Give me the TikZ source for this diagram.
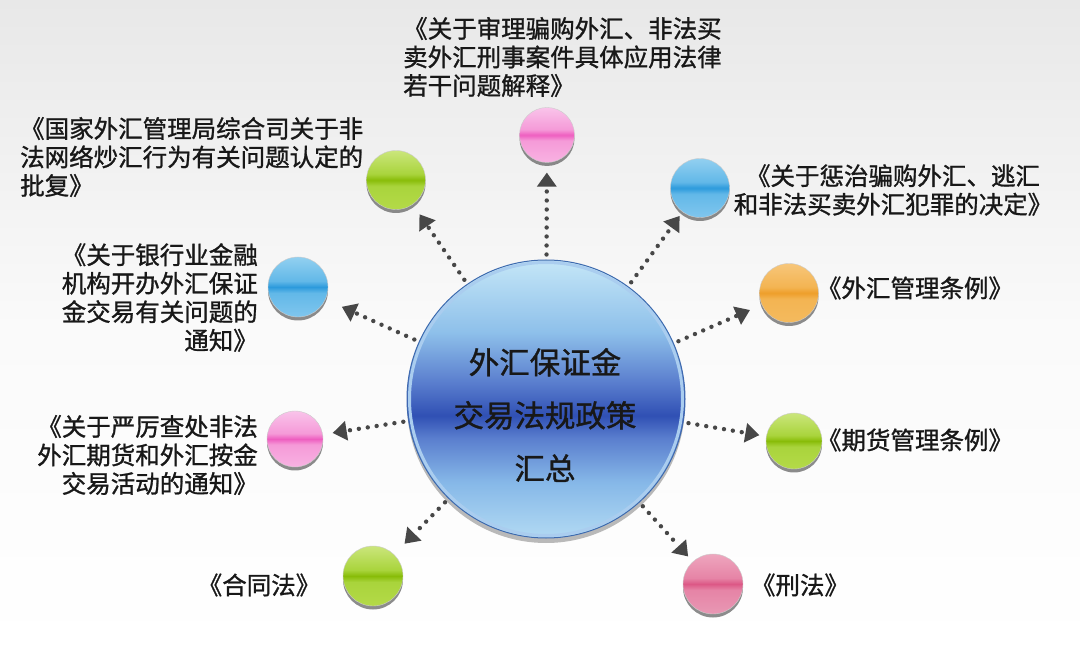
\documentclass[tikz,border=0pt]{standalone}
\usepackage{fontspec}
\newfontfamily\cjk[FakeBold=1.1]{Noto Sans CJK SC}
\usetikzlibrary{arrows.meta,shadows}
% colours
\definecolor{tc}{HTML}{181818}
\definecolor{ac}{HTML}{474747}
\definecolor{gT}{HTML}{CBE67C}\definecolor{gL}{HTML}{A9D43C}\definecolor{gM}{HTML}{88BC08}\definecolor{gB}{HTML}{B4DA48}
\definecolor{pT}{HTML}{F9C4EA}\definecolor{pL}{HTML}{F59AD8}\definecolor{pM}{HTML}{EE5EC0}\definecolor{pB}{HTML}{F8B2E2}
\definecolor{bT}{HTML}{92D0F0}\definecolor{bL}{HTML}{62B8E8}\definecolor{bM}{HTML}{2C9ADC}\definecolor{bB}{HTML}{80C6EE}
\definecolor{oT}{HTML}{F7C67A}\definecolor{oL}{HTML}{F3B452}\definecolor{oM}{HTML}{EE9E2A}\definecolor{oB}{HTML}{F4BA5E}
\definecolor{rT}{HTML}{EEA6BE}\definecolor{rL}{HTML}{E684A6}\definecolor{rM}{HTML}{DC5886}\definecolor{rB}{HTML}{E898B4}
\definecolor{cT}{HTML}{C4E6F7}\definecolor{c1}{HTML}{8EC0EA}\definecolor{cM}{HTML}{3050B4}\definecolor{c2}{HTML}{5A7ECE}\definecolor{c3}{HTML}{86B8E8}\definecolor{cB}{HTML}{B2DAF3}
\definecolor{cedge}{HTML}{3E6AAE}
% shadings (path box maps to 25bp..75bp)
\pgfdeclareverticalshading{ballg}{100bp}{color(0bp)=(gB); color(25bp)=(gB); color(45bp)=(gL); color(50bp)=(gM); color(55bp)=(gL); color(75bp)=(gT); color(100bp)=(gT)}
\pgfdeclareverticalshading{ballp}{100bp}{color(0bp)=(pB); color(25bp)=(pB); color(45bp)=(pL); color(50bp)=(pM); color(55bp)=(pL); color(75bp)=(pT); color(100bp)=(pT)}
\pgfdeclareverticalshading{ballb}{100bp}{color(0bp)=(bB); color(25bp)=(bB); color(45bp)=(bL); color(50bp)=(bM); color(55bp)=(bL); color(75bp)=(bT); color(100bp)=(bT)}
\pgfdeclareverticalshading{ballo}{100bp}{color(0bp)=(oB); color(25bp)=(oB); color(45bp)=(oL); color(50bp)=(oM); color(55bp)=(oL); color(75bp)=(oT); color(100bp)=(oT)}
\pgfdeclareverticalshading{ballr}{100bp}{color(0bp)=(rB); color(25bp)=(rB); color(45bp)=(rL); color(50bp)=(rM); color(55bp)=(rL); color(75bp)=(rT); color(100bp)=(rT)}
\pgfdeclareverticalshading{bigc}{100bp}{color(0bp)=(cB); color(25bp)=(cB); color(35bp)=(c3); color(43bp)=(c2); color(47bp)=(cM); color(53bp)=(c2); color(62bp)=(c1); color(75bp)=(cT); color(100bp)=(cT)}
\begin{document}
\begin{tikzpicture}[x=1pt,y=-1pt,
  ball/.style={circle, inner sep=0pt, minimum size=#1, draw=white!60!gray, line width=0.4pt,
     drop shadow={shadow xshift=0pt, shadow yshift=-3.5pt, fill=black!60, opacity=0.75}},
  lab/.style={font=\cjk\fontsize{24.5}{28.5}\selectfont, text=tc, inner sep=0pt},
  dotarrow/.style={draw=ac, line width=4.4pt, line cap=round, dash pattern=on 0pt off 9pt,
     -{Triangle[length=14pt,width=20pt,line width=0pt]}, shorten <=5pt}]
\useasboundingbox (0,0) rectangle (1080,652);
\shade[top color=black!9, bottom color=white, middle color=black!2] (0,0) rectangle (1080,652);

% central circle
\node[circle, inner sep=0pt, minimum size=278pt, shading=bigc, draw=cedge, line width=1pt,
  drop shadow={shadow xshift=0pt, shadow yshift=-5pt, fill=black!45, opacity=0.6}] (C) at (546,399) {};
\draw[c3!70!white, line width=3pt] (546,399) circle (136.5);
\node[font=\cjk\fontsize{30.5}{53}\selectfont, text=tc, align=center, inner sep=0pt] (CT) at (545,415)
  {外汇保证金\\交易法规政策\\汇总};

% balls
\node[ball=55pt, shading=ballp] (b1) at (547,135) {};
\node[ball=59pt, shading=ballb] (b2) at (700,188) {};
\node[ball=59pt, shading=ballo] (b3) at (789,293) {};
\node[ball=56pt, shading=ballg] (b4) at (794,441) {};
\node[ball=60pt, shading=ballr] (b5) at (713,584) {};
\node[ball=60pt, shading=ballg] (b6) at (373,576) {};
\node[ball=56pt, shading=ballp] (b7) at (295,439) {};
\node[ball=60pt, shading=ballb] (b8) at (298,287) {};
\node[ball=59pt, shading=ballg] (b9) at (396,180) {};

% arrows
\draw[dotarrow, shorten >=10pt] (C) -- (b1);
\draw[dotarrow, shorten >=5pt] (C) -- (b2);
\draw[dotarrow, shorten >=13pt] (C) -- (b3);
\draw[dotarrow, shorten >=7pt] (C) -- (b4);
\draw[dotarrow, shorten >=7pt] (C) -- (b5);
\draw[dotarrow, shorten >=15pt] (C) -- (b6);
\draw[dotarrow, shorten >=10pt] (C) -- (b7);
\draw[dotarrow, shorten >=18pt] (C) -- (b8);
\draw[dotarrow, shorten >=12pt] (C) -- (b9);

% labels
\node[lab, align=left, anchor=west] (t1) at (403,57)
  {《关于审理骗购外汇、非法买\\卖外汇刑事案件具体应用法律\\若干问题解释》};
\node[lab, align=center] (t2) at (893,190)
  {《关于惩治骗购外汇、逃汇\\和非法买卖外汇犯罪的决定》};
\node[lab] (t3) at (915,288) {《外汇管理条例》};
\node[lab] (t4) at (915,440) {《期货管理条例》};
\node[lab] (t5) at (800,585) {《刑法》};
\node[lab] (t6) at (259,585) {《合同法》};
\node[lab, align=right, anchor=east] (t7) at (258,455)
  {《关于严厉查处非法\\外汇期货和外汇按金\\交易活动的通知》};
\node[lab, align=right, anchor=east] (t8) at (258,297.5)
  {《关于银行业金融\\机构开办外汇保证\\金交易有关问题的\\通知》};
\node[lab, align=left, anchor=west] (t9) at (20,157)
  {《国家外汇管理局综合司关于非\\法网络炒汇行为有关问题认定的\\批复》};
\end{tikzpicture}
\end{document}
